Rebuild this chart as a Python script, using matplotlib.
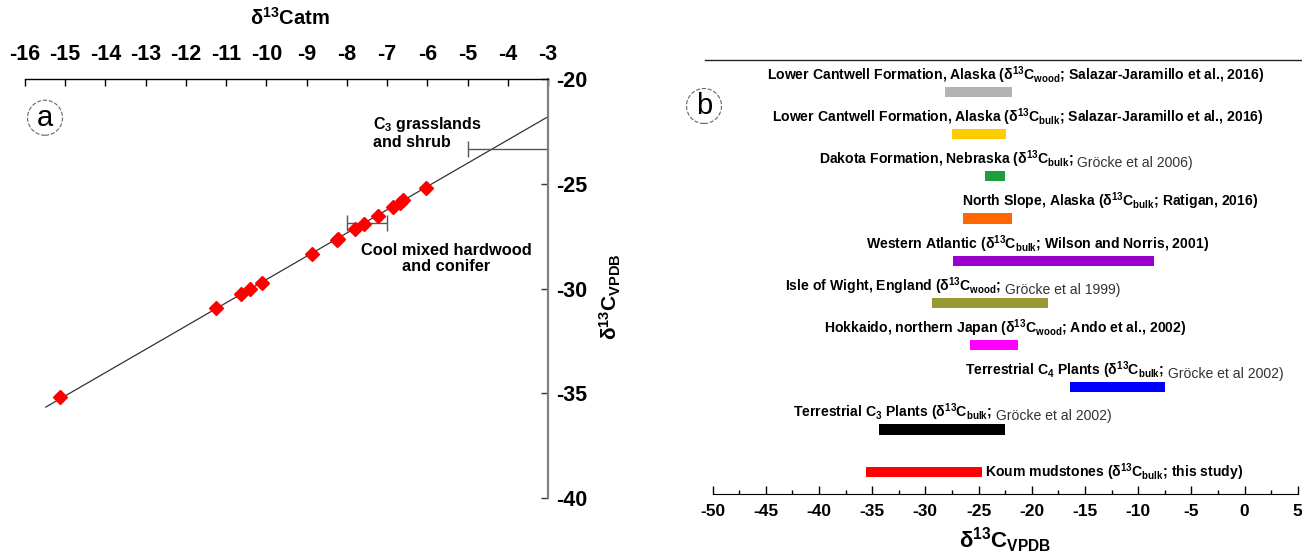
import matplotlib
matplotlib.use("Agg")
import matplotlib.pyplot as plt
from matplotlib.lines import Line2D
from matplotlib.ticker import MultipleLocator

plt.rcParams['font.family'] = ['Liberation Sans', 'DejaVu Sans']
plt.rcParams['mathtext.default'] = 'regular'
plt.rcParams['axes.unicode_minus'] = False

# ---------------- data: panel a ----------------
atm_x = [-6.04, -6.61, -6.68, -6.84, -7.22, -7.58, -7.79, -8.21, -8.25,
         -8.87, -10.11, -10.40, -10.63, -11.25, -15.12]
vpdb_y = [-25.22, -25.79, -25.90, -26.09, -26.53, -26.92, -27.16, -27.62,
          -27.68, -28.35, -29.72, -30.00, -30.24, -30.95, -35.19]
line_x = [-15.48, -3.0]
line_y = [-35.66, -21.8]
# range bars (annotations) in panel a
grass_x = [-5.0, -3.0]
grass_y = -23.35
conifer_x = [-8.0, -7.0]
conifer_y = -26.85

# ---------------- data: panel b ----------------
ranges_lo = [-35.6, -34.4, -16.4, -25.8, -29.4, -27.4, -26.5, -24.4, -27.5, -28.2]
ranges_hi = [-24.7, -22.5, -7.5, -21.3, -18.5, -8.5, -21.9, -22.5, -22.4, -21.9]
bar_colors = ['#ff0000', '#000000', '#0000ff', '#ff00ff', '#999933',
              '#9900cc', '#ff6600', '#1f9e3f', '#ffcc00', '#b3b3b3']
label_bold = [
    'Koum mudstones (δ$^{13}$C$_{bulk}$; this study)',
    'Terrestrial C$_3$ Plants (δ$^{13}$C$_{bulk}$;',
    'Terrestrial C$_4$ Plants (δ$^{13}$C$_{bulk}$;',
    'Hokkaido, northern Japan (δ$^{13}$C$_{wood}$; Ando et al., 2002)',
    'Isle of Wight, England (δ$^{13}$C$_{wood}$;',
    'Western Atlantic (δ$^{13}$C$_{bulk}$; Wilson and Norris, 2001)',
    'North Slope, Alaska (δ$^{13}$C$_{bulk}$; Ratigan, 2016)',
    'Dakota Formation, Nebraska (δ$^{13}$C$_{bulk}$;',
    'Lower Cantwell Formation, Alaska (δ$^{13}$C$_{bulk}$; Salazar-Jaramillo et al., 2016)',
    'Lower Cantwell Formation, Alaska (δ$^{13}$C$_{wood}$; Salazar-Jaramillo et al., 2016)',
]
label_normal = ['', ' Gröcke et al 2002)', ' Gröcke et al 2002)', '', ' Gröcke et al 1999)',
                '', '', ' Gröcke et al 2006)', '', '']
label_center = [None, -27.5, -11.3, -22.46, -27.44, -19.45, -12.6, -22.46, -21.33, -21.52]

fig = plt.figure(figsize=(13.02, 5.54), dpi=100)

# ---------------- panel a ----------------
axa = fig.add_axes([24.9 / 1302, 1 - 498 / 554, (548 - 24.9) / 1302, (498 - 79) / 554])
axa.plot(line_x, line_y, color='#333333', lw=0.9, zorder=2)
axa.plot(atm_x, vpdb_y, linestyle='none', marker='D', ms=7.3, color='#ff0000',
         mec='#ff0000', zorder=3)
axa.errorbar([sum(grass_x) / 2], [grass_y], xerr=[(grass_x[1] - grass_x[0]) / 2],
             fmt='none', ecolor='#555555', elinewidth=1, capsize=6, capthick=1)
axa.errorbar([sum(conifer_x) / 2], [conifer_y], xerr=[(conifer_x[1] - conifer_x[0]) / 2],
             fmt='none', ecolor='#555555', elinewidth=1, capsize=6, capthick=1)
axa.set_xlim(-16, -3)
axa.set_ylim(-40, -20)
for s in ['left', 'bottom']:
    axa.spines[s].set_visible(False)
axa.spines['top'].set_linewidth(1.0)
axa.spines['right'].set_color('#808080')
axa.spines['right'].set_linewidth(1.6)
axa.xaxis.set_ticks_position('top')
axa.xaxis.set_label_position('top')
axa.yaxis.set_ticks_position('right')
axa.set_xticks(range(-16, -2))
axa.set_yticks([-20, -25, -30, -35, -40])
axa.tick_params(axis='x', direction='in', length=5, width=1, pad=10,
                labelsize=15.5)
axa.tick_params(axis='y', direction='in', length=5, width=1, pad=6,
                labelsize=15.5, color='#333333')
for lab in axa.get_xticklabels() + axa.get_yticklabels():
    lab.set_fontweight('bold')

axa.text(-7.35, -22.55, 'C$_3$ grasslands\nand shrub', ha='left', va='center',
         fontsize=11.5, fontweight='bold', linespacing=1.1)
axa.text(-5.53, -28.57, 'Cool mixed hardwood\nand conifer', ha='center', va='center',
         fontsize=11.8, fontweight='bold', linespacing=1.1)
axa.text(-15.5, -21.85, 'a', ha='center', va='center', fontsize=21,
         bbox=dict(boxstyle='circle,pad=0.12', fc='none', ec='#666666', ls='--', lw=0.8))

fig.text(290 / 1302, 1 - 18 / 554, 'δ$^{13}$Catm', ha='center', va='center',
         fontsize=14.5, fontweight='bold')
fig.text(610 / 1302, 1 - 297 / 554, 'δ$^{13}$C$_{VPDB}$', ha='center', va='center',
         rotation=90, fontsize=15, fontweight='bold')

# ---------------- panel b ----------------
axb = fig.add_axes([712.6 / 1302, 1 - 494 / 554, (1297.7 - 712.6) / 1302, (494 - 60) / 554])
rows = list(range(len(ranges_lo)))
widths = [h - l for l, h in zip(ranges_lo, ranges_hi)]
axb.barh(rows, widths, left=ranges_lo, height=0.24, color=bar_colors, edgecolor='none')
axb.set_xlim(-50, 5)
axb.set_ylim(-0.528, 9.758)
for s in ['left', 'right', 'top']:
    axb.spines[s].set_visible(False)
axb.set_yticks([])
axb.xaxis.set_major_locator(MultipleLocator(5))
axb.xaxis.set_minor_locator(MultipleLocator(2.5))
axb.tick_params(axis='x', which='major', direction='in', length=6, width=1, pad=7,
                labelsize=12.5)
axb.tick_params(axis='x', which='minor', direction='in', length=3, width=1)
for lab in axb.get_xticklabels():
    lab.set_fontweight('bold')
fig.add_artist(Line2D([705 / 1302, 1.0], [1 - 60 / 554, 1 - 60 / 554], color='#222222', lw=1.0))

fig.text(1005 / 1302, 1 - 540 / 554, 'δ$^{13}$C$_{VPDB}$', ha='center', va='center',
         fontsize=16, fontweight='bold')
fig.text(704 / 1302, 1 - 106 / 554, 'b', ha='center', va='center', fontsize=21,
         bbox=dict(boxstyle='circle,pad=0.12', fc='none', ec='#666666', ls='--', lw=0.8))

FS = 10.1
pairs = []
for i in rows:
    if label_center[i] is None:
        t1 = axb.text(ranges_hi[i] + 0.3, i, label_bold[i], ha='left', va='center',
                      fontsize=FS, fontweight='bold')
        pairs.append((None, t1, None))
        continue
    t1 = axb.text(label_center[i], i + 0.40, label_bold[i], ha='left', va='center',
                  fontsize=FS, fontweight='bold')
    t2 = None
    if label_normal[i]:
        t2 = axb.annotate(label_normal[i], xy=(1, 0), xycoords=t1, ha='left', va='bottom',
                          fontsize=FS, color='#333333')
    pairs.append((label_center[i], t1, t2))

fig.canvas.draw()
r = fig.canvas.get_renderer()
px_per_unit = axb.transData.transform((1, 0))[0] - axb.transData.transform((0, 0))[0]
for c, t1, t2 in pairs:
    if c is None:
        continue
    w = t1.get_window_extent(r).width
    if t2 is not None:
        w += t2.get_window_extent(r).width
    x0, y0 = t1.get_position()
    t1.set_position((c - w / px_per_unit / 2, y0))

fig.savefig('out.png', dpi=100)
